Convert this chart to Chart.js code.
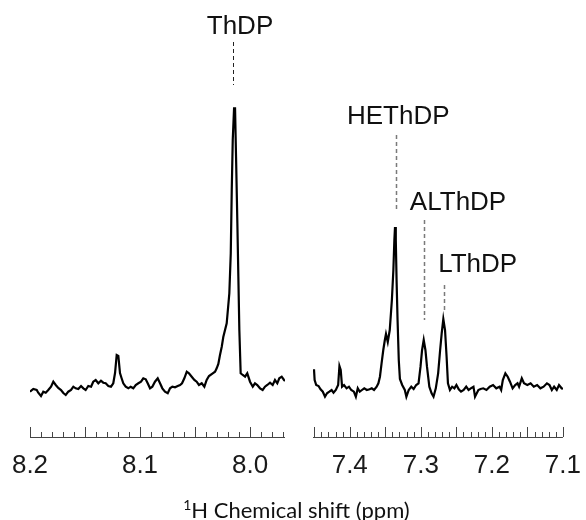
<!DOCTYPE html>
<html>
<head>
<meta charset="utf-8">
<script src="https://cdn.jsdelivr.net/npm/chart.js@4.4.0/dist/chart.umd.min.js"></script>
<style>
  html, body { margin: 0; padding: 0; background: #fff; }
  #wrap { position: relative; width: 586px; height: 520px; }
  #wrap canvas { position: absolute; left: 0; top: 0; }
</style>
</head>
<body>
<div id="wrap">
  <canvas id="leftChart" width="586" height="520"></canvas>
  <canvas id="rightChart" width="586" height="520"></canvas>
</div>
<script>
// ---- data (ppm, intensity a.u.) ----
const leftPpm = [8.2000, 8.1970, 8.1939, 8.1925, 8.1900, 8.1879, 8.1857, 8.1834, 8.1809, 8.1788,
  8.1766, 8.1743, 8.1718, 8.1697, 8.1675, 8.1652, 8.1627, 8.1606, 8.1585, 8.1561,
  8.1536, 8.1515, 8.1494, 8.1470, 8.1445, 8.1425, 8.1403, 8.1379, 8.1355, 8.1334,
  8.1312, 8.1288, 8.1264, 8.1243, 8.1227, 8.1212, 8.1197, 8.1182, 8.1168, 8.1152,
  8.1130, 8.1106, 8.1085, 8.1061, 8.1039, 8.1015, 8.0991, 8.0970, 8.0948, 8.0930,
  8.0909, 8.0888, 8.0864, 8.0839, 8.0818, 8.0797, 8.0773, 8.0748, 8.0727, 8.0706,
  8.0682, 8.0657, 8.0636, 8.0618, 8.0597, 8.0575, 8.0555, 8.0530, 8.0506, 8.0485,
  8.0464, 8.0439, 8.0415, 8.0394, 8.0373, 8.0339, 8.0318, 8.0303, 8.0288, 8.0273,
  8.0257, 8.0243, 8.0212, 8.0188, 8.0175, 8.0166, 8.0157, 8.0145, 8.0136, 8.0127,
  8.0115, 8.0106, 8.0097, 8.0085, 8.0066, 8.0045, 8.0025, 8.0000, 7.9975, 7.9955,
  7.9934, 7.9909, 7.9885, 7.9864, 7.9843, 7.9818, 7.9794, 7.9773, 7.9752, 7.9734,
  7.9712, 7.9691, 7.9682];
const leftIntensity = [0.3, 3, 2, -0.7, -4, 0.3, -0.7, 2, 5.3, 10.3,
  7, 4, 2, -1, -3, 0.3, 2, 5.3, 3.7, 3,
  6, 3.7, 2, 6, 5.3, 10.3, 12, 8.7, 11.3, 9.3,
  8.7, 6, 5.3, 8.7, 19, 37, 36, 19, 14, 8.7,
  5.3, 3.7, 5.3, 3.7, 7, 8.7, 10.3, 13.7, 12.7, 8.7,
  3.7, 5.3, 10.3, 13.7, 8.7, 3.7, 0.3, -1.3, 3.7, 5.3,
  4.7, 6, 7, 8.7, 13.7, 20.3, 18.7, 15.3, 12, 10.3,
  7, 8.7, 5.3, 12, 16, 18.7, 20.3, 23.7, 28, 37,
  45.3, 55, 68.7, 98.7, 138.7, 202, 252, 283.7, 283.7, 235.3,
  168.7, 115.3, 62, 18.7, 17, 15.3, 18.7, 10.3, 5.3, 8.7,
  7, 3.7, 2, 5.3, 7, 9.3, 7, 12, 8.7, 13.7,
  15.3, 12, 11];

const rightPpm = [7.4503, 7.4494, 7.4472, 7.4439, 7.4411, 7.4379, 7.4348, 7.4320, 7.4287, 7.4255,
  7.4228, 7.4196, 7.4163, 7.4145, 7.4127, 7.4108, 7.4080, 7.4044, 7.4011, 7.3979,
  7.3942, 7.3914, 7.3887, 7.3859, 7.3828, 7.3796, 7.3759, 7.3721, 7.3690, 7.3658,
  7.3621, 7.3597, 7.3575, 7.3552, 7.3528, 7.3506, 7.3490, 7.3465, 7.3437, 7.3407,
  7.3386, 7.3372, 7.3363, 7.3352, 7.3341, 7.3327, 7.3310, 7.3294, 7.3262, 7.3225,
  7.3203, 7.3170, 7.3134, 7.3101, 7.3065, 7.3032, 7.3004, 7.2982, 7.2959, 7.2935,
  7.2913, 7.2880, 7.2848, 7.2821, 7.2789, 7.2756, 7.2728, 7.2706, 7.2683, 7.2659,
  7.2637, 7.2618, 7.2590, 7.2559, 7.2527, 7.2499, 7.2466, 7.2434, 7.2397, 7.2361,
  7.2328, 7.2297, 7.2259, 7.2237, 7.2190, 7.2159, 7.2121, 7.2076, 7.2030, 7.1983,
  7.1938, 7.1892, 7.1869, 7.1846, 7.1810, 7.1777, 7.1745, 7.1708, 7.1672, 7.1639,
  7.1617, 7.1579, 7.1548, 7.1501, 7.1455, 7.1410, 7.1363, 7.1317, 7.1272, 7.1225,
  7.1189, 7.1156, 7.1124, 7.1087, 7.1055, 7.1018, 7.1000];
const rightIntensity = [22.7, 12, 7, 6, 2.7, 0.3, -4.7, -1.3, 0.3, 2,
  -0.7, 2, 7, 26, 22, 5.3, 7, 3.7, 5.3, 2,
  0.3, -4.7, 3.7, 0.3, 2, 3.7, 2, 2.7, 3.7, 2,
  5.3, 8.7, 15.3, 28.7, 42, 52, 58, 50, 62, 92,
  122, 152, 165, 152, 112, 72, 32, 13, 7, 2,
  -4.7, 2, 5.3, 3, 7, 8.7, 25.3, 42, 52, 42,
  25.3, 5.3, -1.3, -4.7, 3.7, 18.7, 42, 58.7, 73, 62,
  35.3, 8.7, 2, 5.3, 3.7, 7, 2.7, 0.3, 2, 5.3,
  2, 3.7, 5.3, -4.7, 2, 3, 3.7, 2, 5.3, 7,
  3.7, 5.3, 2, 12, 18.7, 15.3, 10.3, 3.7, 7, 8.7,
  5.3, 13.7, 8.7, 7, 8.7, 5.3, 7, 3.7, 5.3, 8.7,
  7, 2, 5.3, 2, 7, 3.7, 3];

const leftTicks = [8.2, 8.1, 8.0];
const rightTicks = [7.4, 7.3, 7.2, 7.1];
const leftRange = [7.9682, 8.2];
const rightRange = [7.1, 7.4517];

// peak labels: name, dashed-line ppm, line from/to (a.u.), label ppm, label height (a.u.)
const leftPeaks = [
  { name: 'ThDP', ppm: 8.0155, from: 307, to: 350, labelPpm: 8.0091, labelY: 365, color: '#222', width: 1 }
];
const rightPeaks = [
  { name: 'HEThDP', ppm: 7.3349, from: 182, to: 257, labelPpm: 7.3317, labelY: 275, color: '#7a7a7a', width: 1.5 },
  { name: 'ALThDP', ppm: 7.2959, from: 72, to: 172, labelPpm: 7.2476, labelY: 189, color: '#7a7a7a', width: 1.5 },
  { name: 'LThDP', ppm: 7.2669, from: 82, to: 107, labelPpm: 7.2200, labelY: 127, color: '#7a7a7a', width: 1.5 }
];

const yMin = -45, yMax = 392;
const FONT = "'Liberation Sans', Arial, sans-serif";

function toPoints(xs, ys) {
  return xs.map((x, i) => ({ x: x, y: ys[i] }));
}

// ticks pointing up from the axis line, long every 0.05, short every 0.01
const axisPlugin = {
  id: 'nmrAxis',
  afterDraw(chart) {
    const ctx = chart.ctx;
    const xs = chart.scales.x;
    const area = chart.chartArea;
    ctx.save();
    ctx.strokeStyle = '#444';
    ctx.lineWidth = 1;
    ctx.beginPath();
    ctx.moveTo(area.left, area.bottom + 0.5);
    ctx.lineTo(area.right, area.bottom + 0.5);
    const start = Math.ceil(xs.min * 100 - 1e-6);
    const end = Math.floor(xs.max * 100 + 1e-6);
    for (let k = start; k <= end; k++) {
      const px = Math.round(xs.getPixelForValue(k / 100)) + 0.5;
      const len = (k % 5 === 0) ? 10 : 5;
      ctx.moveTo(px, area.bottom);
      ctx.lineTo(px, area.bottom - len);
    }
    ctx.stroke();
    ctx.restore();
  }
};

const peakPlugin = {
  id: 'peakLabels',
  afterDraw(chart, args, opts) {
    const ctx = chart.ctx;
    const xs = chart.scales.x, ys = chart.scales.y;
    ctx.save();
    opts.peaks.forEach(p => {
      const px = Math.round(xs.getPixelForValue(p.ppm)) + 0.5;
      ctx.strokeStyle = p.color;
      ctx.lineWidth = p.width;
      ctx.setLineDash([4, 3]);
      ctx.beginPath();
      ctx.moveTo(px, ys.getPixelForValue(p.to));
      ctx.lineTo(px, ys.getPixelForValue(p.from));
      ctx.stroke();
      ctx.setLineDash([]);
      ctx.fillStyle = '#111';
      ctx.font = '26px ' + FONT;
      ctx.textAlign = 'center';
      ctx.textBaseline = 'middle';
      ctx.fillText(p.name, xs.getPixelForValue(p.labelPpm), ys.getPixelForValue(p.labelY));
    });
    ctx.restore();
  }
};

let leftChartRef = null;
const titlePlugin = {
  id: 'xTitle',
  afterDraw(chart) {
    if (!leftChartRef) return;
    const ctx = chart.ctx;
    const cx = (leftChartRef.chartArea.left + chart.chartArea.right) / 2;
    const base = 518;
    ctx.save();
    ctx.fillStyle = '#111';
    ctx.textBaseline = 'alphabetic';
    ctx.textAlign = 'left';
    ctx.font = '14px Lato, sans-serif';
    const supW = ctx.measureText('1').width;
    ctx.font = '22px Lato, sans-serif';
    const mainTxt = 'H Chemical shift (ppm)';
    const mainW = ctx.measureText(mainTxt).width;
    const x0 = cx - (supW + mainW) / 2;
    ctx.font = '14px Lato, sans-serif';
    ctx.fillText('1', x0, base - 8);
    ctx.font = '22px Lato, sans-serif';
    ctx.fillText(mainTxt, x0 + supW, base);
    ctx.restore();
  }
};

function makeChart(id, xsData, ysData, range, tickVals, peaks, padLeft, padRight, extra) {
  return new Chart(document.getElementById(id), {
    type: 'line',
    data: {
      datasets: [{
        data: toPoints(xsData, ysData),
        borderColor: '#000',
        borderWidth: 2.2,
        pointRadius: 0,
        tension: 0,
        fill: false
      }]
    },
    options: {
      responsive: false,
      animation: false,
      events: [],
      layout: { padding: { left: padLeft, right: padRight, top: 0, bottom: 0 } },
      plugins: {
        legend: { display: false },
        tooltip: { enabled: false },
        peakLabels: { peaks: peaks }
      },
      scales: {
        x: {
          type: 'linear',
          reverse: true,
          min: range[0],
          max: range[1],
          grid: { display: false },
          border: { display: false },
          afterBuildTicks: (scale) => { scale.ticks = tickVals.map(v => ({ value: v })); },
          afterFit: (scale) => { scale.height = 83; },
          ticks: {
            padding: 5,
            maxRotation: 0,
            autoSkip: false,
            color: '#1a1a1a',
            font: { family: FONT, size: 26 },
            callback: (v) => Number(v).toFixed(1)
          }
        },
        y: { display: false, min: yMin, max: yMax }
      }
    },
    plugins: [axisPlugin, peakPlugin].concat(extra || [])
  });
}

leftChartRef = makeChart('leftChart', leftPpm, leftIntensity, leftRange, leftTicks, leftPeaks, 30, 301);
makeChart('rightChart', rightPpm, rightIntensity, rightRange, rightTicks, rightPeaks, 313, 18, [titlePlugin]);
</script>
</body>
</html>
